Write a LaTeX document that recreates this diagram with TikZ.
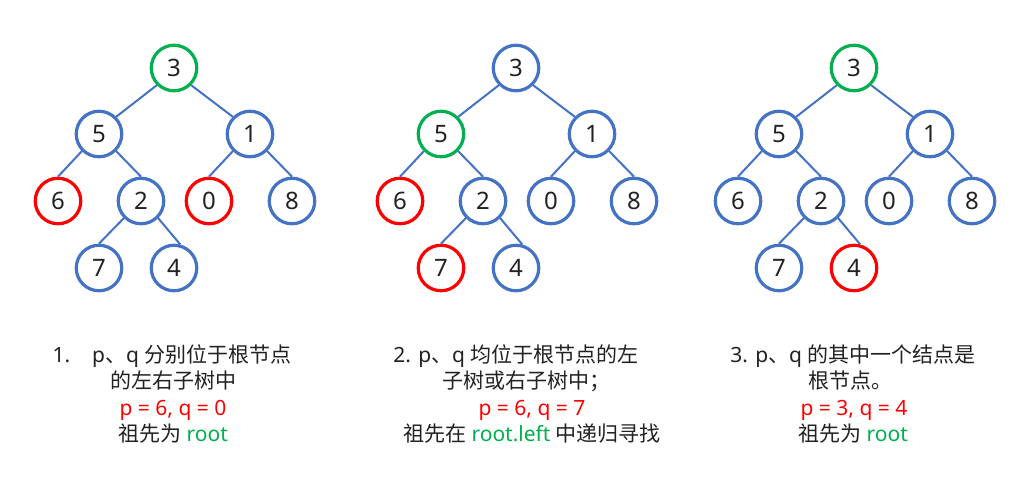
\documentclass[tikz,border=0pt]{standalone}
\usepackage{fontspec}
\setmainfont{Noto Sans}
\newfontfamily\cjk{Noto Sans CJK SC}
\definecolor{bl}{HTML}{4472C4}
\definecolor{rd}{HTML}{FF0000}
\definecolor{gn}{HTML}{00B050}
\definecolor{tx}{HTML}{222222}
\tikzset{
  nd/.style={circle, line width=3.2pt, minimum size=45.5pt, inner sep=0pt, text=tx,
     font=\fontsize{24pt}{28pt}\selectfont},
  edge/.style={bl, line width=2pt},
  captxt/.style={anchor=base, inner sep=0pt, text=tx, font=\fontsize{21pt}{25pt}\selectfont}
}
\newcommand\mytree[8]{%
\begin{scope}[xshift=#2pt]
\node[nd,draw=#3] (#1r) at (174,68) {3};
\node[nd,draw=#4] (#1a) at (99,134) {5};
\node[nd,draw=bl] (#1b) at (250,134) {1};
\node[nd,draw=#5] (#1c) at (58,201) {6};
\node[nd,draw=bl] (#1d) at (141,201) {2};
\node[nd,draw=#6] (#1e) at (209,201) {0};
\node[nd,draw=bl] (#1f) at (292,201) {8};
\node[nd,draw=#7] (#1g) at (99,268) {7};
\node[nd,draw=#8] (#1h) at (174,268) {4};
\draw[edge] (#1r.-135) -- (#1a.45);
\draw[edge] (#1r.-45) -- (#1b.135);
\draw[edge] (#1a.-135) -- (#1c.90);
\draw[edge] (#1a.-45) -- (#1d.90);
\draw[edge] (#1b.-135) -- (#1e.90);
\draw[edge] (#1b.-45) -- (#1f.90);
\draw[edge] (#1d.-135) -- (#1g.90);
\draw[edge] (#1d.-45) -- (#1h.75);
\end{scope}}
\begin{document}
\begin{tikzpicture}[x=1pt,y=-1pt]
\useasboundingbox[fill=white] (0,0) rectangle (1019,487);
\mytree{A}{0}{gn}{bl}{rd}{rd}{bl}{bl}
\mytree{B}{342}{bl}{gn}{rd}{bl}{rd}{bl}
\mytree{C}{680}{gn}{bl}{bl}{bl}{bl}{rd}
% captions tree 1
\node[captxt] (a1) at (172,362) {1.\hspace{22pt}p{\cjk 、}q {\cjk 分别位于根节点}};
\node[captxt] (a2) at (173,388.5) {\cjk 的左右子树中};
\node[captxt, text=rd] (a3) at (173,415) {p = 6, q = 0};
\node[captxt] (a4) at (173,441) {{\cjk 祖先为} \textcolor{gn}{root}};
% captions tree 2
\node[captxt] (b1) at (516,362) {2. p{\cjk 、}q {\cjk 均位于根节点的左}};
\node[captxt] (b2) at (526,388.5) {\cjk 子树或右子树中；};
\node[captxt, text=rd] (b3) at (532,415) {p = 6, q = 7};
\node[captxt] (b4) at (532,441) {{\cjk 祖先在} \textcolor{gn}{root.left} {\cjk 中递归寻找}};
% captions tree 3
\node[captxt] (c1) at (853,362) {3. p{\cjk 、}q {\cjk 的其中一个结点是}};
\node[captxt] (c2) at (850,388.5) {\cjk 根节点。};
\node[captxt, text=rd] (c3) at (854,415) {p = 3, q = 4};
\node[captxt] (c4) at (853,441) {{\cjk 祖先为} \textcolor{gn}{root}};
\end{tikzpicture}
\end{document}
